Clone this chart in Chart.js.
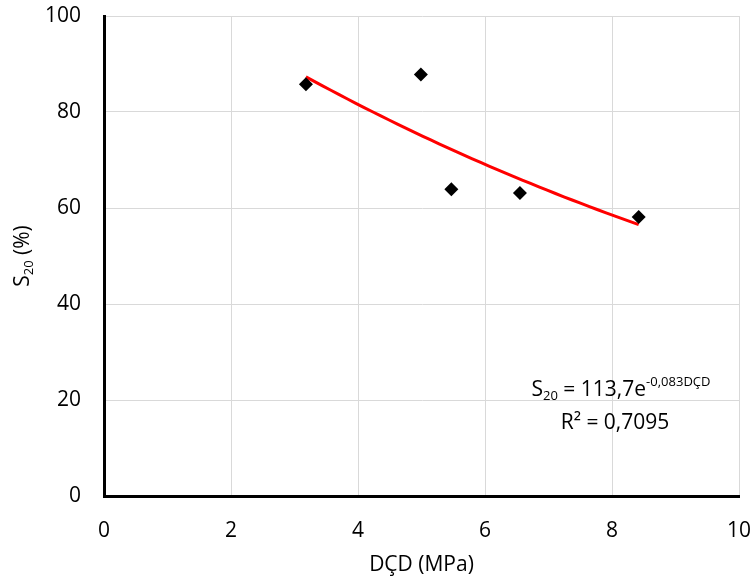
<!DOCTYPE html>
<html>
<head>
<meta charset="utf-8">
<script src="https://cdn.jsdelivr.net/npm/chart.js@4"></script>
<style>
  html, body { margin: 0; padding: 0; background: #fff; }
  #wrap { width: 755px; height: 580px; }
</style>
</head>
<body>
<div id="wrap"><canvas id="s20Chart"></canvas></div>
<script>
// measured samples: DÇD (MPa) vs S20 (%)
var dcdValues = [3.18, 4.99, 5.47, 6.55, 8.42];
var s20Values = [85.8, 87.8, 63.9, 63.1, 58.1];

// exponential trendline S20 = a * e^(b * DÇD)
var trendA = 113.7;
var trendB = -0.083;
var trendR2 = '0,7095';

var xTicks = [0, 2, 4, 6, 8, 10];
var yTicks = [0, 20, 40, 60, 80, 100];

var FONT = '"Open Sans", "Liberation Sans", sans-serif';
var FS = 21;

var pointData = dcdValues.map(function (x, i) { return { x: x, y: s20Values[i] }; });

// trendline spans the data range
var trendData = [];
var xMin = Math.min.apply(null, dcdValues), xMax = Math.max.apply(null, dcdValues);
for (var k = 0; k <= 40; k++) {
    var xv = xMin + (xMax - xMin) * k / 40;
    trendData.push({ x: xv, y: trendA * Math.exp(trendB * xv) });
}

// draws text runs with sub/superscript parts
function drawRuns(ctx, runs, x, y, align, size) {
    var total = 0;
    runs.forEach(function (r) {
        ctx.font = (r.pos ? size * 0.62 : size) + 'px ' + FONT;
        r.w = ctx.measureText(r.t).width;
        total += r.w;
    });
    var cx = align === 'center' ? x - total / 2 : x;
    runs.forEach(function (r) {
        ctx.font = (r.pos ? size * 0.62 : size) + 'px ' + FONT;
        var dy = r.pos === 'sub' ? size * 0.3 : (r.pos === 'sup' ? -size * 0.38 : 0);
        ctx.fillText(r.t, cx, y + dy);
        cx += r.w;
    });
}

var labelsPlugin = {
    id: 'labels',
    afterDraw: function (chart) {
        var ctx = chart.ctx;
        var area = chart.chartArea;
        ctx.save();
        ctx.fillStyle = '#000';
        ctx.textAlign = 'left';
        ctx.textBaseline = 'middle';

        // x axis title
        drawRuns(ctx, [{ t: 'DÇD (MPa)' }], (area.left + area.right) / 2, 565, 'center', FS);

        // y axis title, rotated
        ctx.translate(23, (area.top + area.bottom) / 2);
        ctx.rotate(-Math.PI / 2);
        drawRuns(ctx, [{ t: 'S' }, { t: '20', pos: 'sub' }, { t: ' (%)' }], 0, 0, 'center', FS);
        ctx.setTransform(1, 0, 0, 1, 0, 0);

        // trendline equation
        drawRuns(ctx, [
            { t: 'S' }, { t: '20', pos: 'sub' },
            { t: ' = ' + String(trendA).replace('.', ',') + 'e' },
            { t: String(trendB).replace('.', ',') + 'DÇD', pos: 'sup' }
        ], 621, 390, 'center', FS);
        drawRuns(ctx, [{ t: 'R² = ' + trendR2 }], 615, 423, 'center', FS);
        ctx.restore();
    }
};

new Chart(document.getElementById('s20Chart'), {
    type: 'scatter',
    data: {
        datasets: [{
            label: 'S20',
            data: pointData,
            pointStyle: 'rectRot',
            pointRadius: 7,
            pointBackgroundColor: '#000',
            pointBorderColor: '#000',
            borderWidth: 0,
            order: 1
        }, {
            label: 'Trend',
            type: 'line',
            data: trendData,
            borderColor: '#ff0000',
            borderWidth: 3,
            pointRadius: 0,
            fill: false,
            tension: 0,
            order: 2
        }]
    },
    options: {
        responsive: true,
        maintainAspectRatio: false,
        animation: false,
        layout: { padding: { top: 16, right: 16, left: 0, bottom: 0 } },
        plugins: {
            legend: { display: false },
            tooltip: { enabled: false }
        },
        scales: {
            x: {
                type: 'linear',
                min: 0,
                max: 10,
                afterBuildTicks: function (scale) {
                    scale.ticks = xTicks.map(function (v) { return { value: v }; });
                },
                afterFit: function (scale) {
                    scale.height = 84;
                    scale.paddingLeft = 0;
                    scale.paddingRight = 0;
                },
                grid: { color: '#d9d9d9', lineWidth: 1, drawTicks: false },
                border: { color: '#000', width: 3 },
                ticks: { color: '#000', padding: 22, font: { family: FONT, size: FS }, maxRotation: 0 }
            },
            y: {
                min: 0,
                max: 100,
                afterBuildTicks: function (scale) {
                    scale.ticks = yTicks.map(function (v) { return { value: v }; });
                },
                afterFit: function (scale) {
                    scale.width = 104;
                    scale.paddingTop = 0;
                    scale.paddingBottom = 0;
                },
                grid: { color: '#d9d9d9', lineWidth: 1, drawTicks: false },
                border: { color: '#000', width: 3 },
                ticks: { color: '#000', padding: 23, font: { family: FONT, size: FS } }
            }
        }
    },
    plugins: [labelsPlugin]
});
</script>
</body>
</html>
